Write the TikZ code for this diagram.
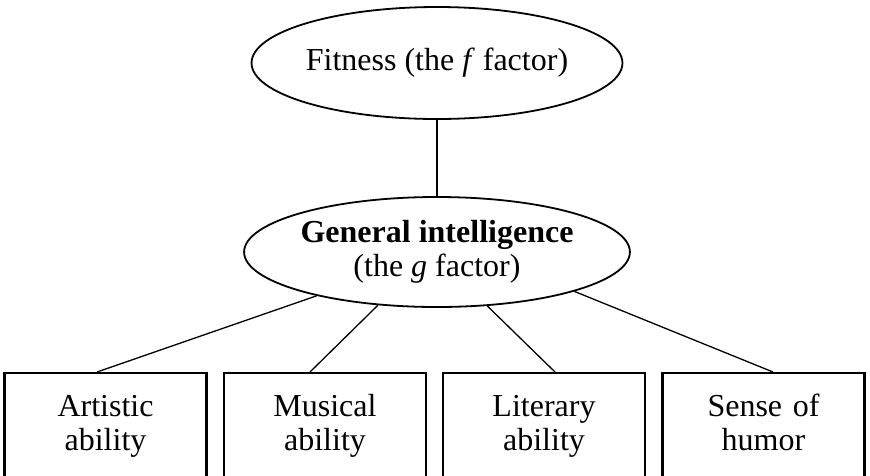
\documentclass[tikz,border=0pt]{standalone}
\usepackage{fontspec}
\setmainfont{Liberation Serif}
\usetikzlibrary{shapes.geometric, math}

\tikzset{
  oval/.style={draw, ellipse, line width=1.8pt, minimum width=366pt, minimum height=112pt, inner sep=0pt, align=center},
  abilitybox/.style={draw, rectangle, line width=2.2pt, anchor=north, text width=190pt, inner xsep=6pt, inner ysep=0pt, align=center, text height=43pt, text depth=75pt},
  link/.style={line width=1.3pt}
}

\begin{document}
\begin{tikzpicture}[x=1pt, y=1pt, every node/.append style={font=\fontsize{32}{34}\selectfont}]
\tikzmath{
\W=870; \H=475;
}
\useasboundingbox (0,0) rectangle (\W,-\H);

\node[oval] (fit) at (437,-63) {Fitness (the \textit{f} factor)};
\node[oval, minimum width=368pt, minimum height=110pt] (gen) at (437,-252) {\textbf{General intelligence}\\(the \textit{g} factor)};

\node[abilitybox] (art) at (105.5,-372) {Artistic\\ability};
\node[abilitybox] (mus) at (325,-372) {Musical\\ability};
\node[abilitybox] (lit) at (544,-372) {Literary\\ability};
\node[abilitybox] (hum) at (763.5,-372) {Sense of\\humor};

\draw[link] (fit.south) -- (gen.north);
\draw[link] (gen.200) -- ([xshift=-8.5pt]art.north);
\draw[link] (gen.222) -- ([xshift=-15pt]mus.north);
\draw[link] (gen.313) -- ([xshift=11pt]lit.north);
\draw[link] (gen.344) -- ([xshift=9.5pt]hum.north);
\end{tikzpicture}
\end{document}
